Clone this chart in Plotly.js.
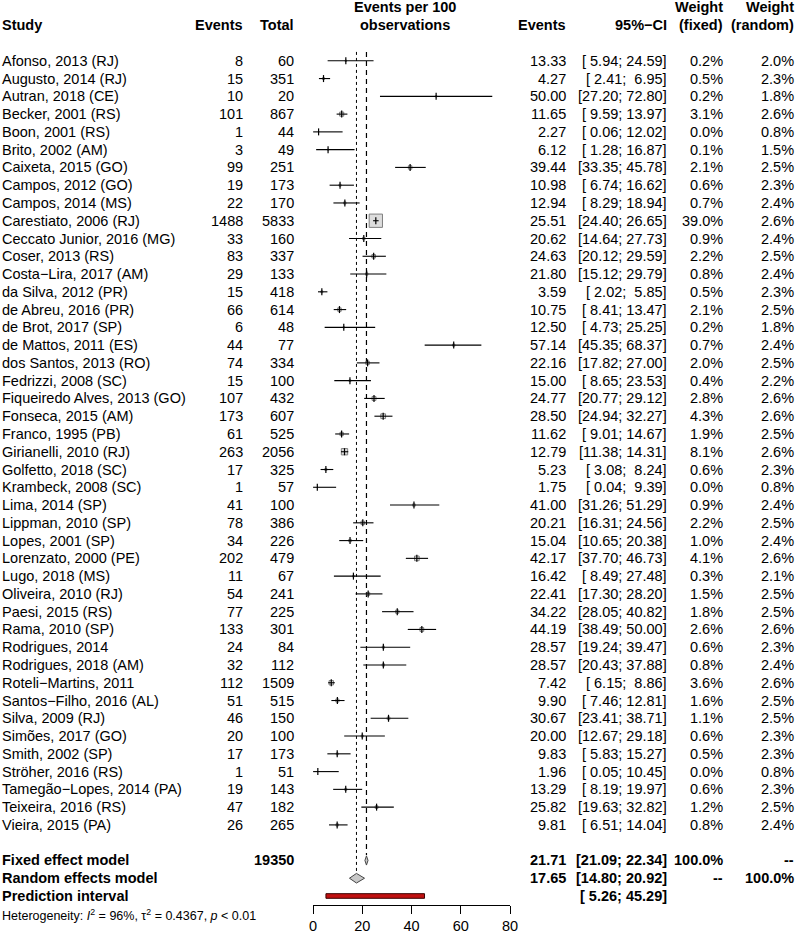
<!DOCTYPE html>
<html>
<head>
<meta charset="utf-8">
<script src="https://cdn.plot.ly/plotly-3.0.1.min.js"></script>
<style>
  html, body { margin: 0; padding: 0; background: #fff; }
  #chart { width: 796px; height: 940px; }
</style>
</head>
<body>
<div id="chart"></div>
<script>
const studies = [
  'Afonso, 2013 (RJ)', 'Augusto, 2014 (RJ)', 'Autran, 2018 (CE)', 'Becker, 2001 (RS)',
  'Boon, 2001 (RS)', 'Brito, 2002 (AM)', 'Caixeta, 2015 (GO)', 'Campos, 2012 (GO)',
  'Campos, 2014 (MS)', 'Carestiato, 2006 (RJ)', 'Ceccato Junior, 2016 (MG)', 'Coser, 2013 (RS)',
  'Costa\u2212Lira, 2017 (AM)', 'da Silva, 2012 (PR)', 'de Abreu, 2016 (PR)', 'de Brot, 2017 (SP)',
  'de Mattos, 2011 (ES)', 'dos Santos, 2013 (RO)', 'Fedrizzi, 2008 (SC)', 'Fiqueiredo Alves, 2013 (GO)',
  'Fonseca, 2015 (AM)', 'Franco, 1995 (PB)', 'Girianelli, 2010 (RJ)', 'Golfetto, 2018 (SC)',
  'Krambeck, 2008 (SC)', 'Lima, 2014 (SP)', 'Lippman, 2010 (SP)', 'Lopes, 2001 (SP)',
  'Lorenzato, 2000 (PE)', 'Lugo, 2018 (MS)', 'Oliveira, 2010 (RJ)', 'Paesi, 2015 (RS)',
  'Rama, 2010 (SP)', 'Rodrigues, 2014', 'Rodrigues, 2018 (AM)', 'Roteli\u2212Martins, 2011',
  'Santos\u2212Filho, 2016 (AL)', 'Silva, 2009 (RJ)', 'Simões, 2017 (GO)', 'Smith, 2002 (SP)',
  'Ströher, 2016 (RS)', 'Tamegão\u2212Lopes, 2014 (PA)', 'Teixeira, 2016 (RS)', 'Vieira, 2015 (PA)'
]
const events = [8, 15, 10, 101, 1, 3, 99, 19, 22, 1488, 33, 83, 29, 15, 66, 6, 44, 74, 15, 107, 173, 61,
  263, 17, 1, 41, 78, 34, 202, 11, 54, 77, 133, 24, 32, 112, 51, 46, 20, 17, 1, 19, 47, 26]
const totals = [60, 351, 20, 867, 44, 49, 251, 173, 170, 5833, 160, 337, 133, 418, 614, 48, 77, 334, 100,
  432, 607, 525, 2056, 325, 57, 100, 386, 226, 479, 67, 241, 225, 301, 84, 112, 1509, 515, 150, 100,
  173, 51, 143, 182, 265]
const rate = [13.33, 4.27, 50.00, 11.65, 2.27, 6.12, 39.44, 10.98, 12.94, 25.51, 20.62, 24.63, 21.80,
  3.59, 10.75, 12.50, 57.14, 22.16, 15.00, 24.77, 28.50, 11.62, 12.79, 5.23, 1.75, 41.00, 20.21, 15.04,
  42.17, 16.42, 22.41, 34.22, 44.19, 28.57, 28.57, 7.42, 9.90, 30.67, 20.00, 9.83, 1.96, 13.29, 25.82, 9.81]
const lower = [5.94, 2.41, 27.20, 9.59, 0.06, 1.28, 33.35, 6.74, 8.29, 24.40, 14.64, 20.12, 15.12, 2.02,
  8.41, 4.73, 45.35, 17.82, 8.65, 20.77, 24.94, 9.01, 11.38, 3.08, 0.04, 31.26, 16.31, 10.65, 37.70,
  8.49, 17.30, 28.05, 38.49, 19.24, 20.43, 6.15, 7.46, 23.41, 12.67, 5.83, 0.05, 8.19, 19.63, 6.51]
const upper = [24.59, 6.95, 72.80, 13.97, 12.02, 16.87, 45.78, 16.62, 18.94, 26.65, 27.73, 29.59, 29.79,
  5.85, 13.47, 25.25, 68.37, 27.00, 23.53, 29.12, 32.27, 14.67, 14.31, 8.24, 9.39, 51.29, 24.56, 20.38,
  46.73, 27.48, 28.20, 40.82, 50.00, 39.47, 37.88, 8.86, 12.81, 38.71, 29.18, 15.27, 10.45, 19.97, 32.82, 14.04]
const weightFixed = [0.2, 0.5, 0.2, 3.1, 0.0, 0.1, 2.1, 0.6, 0.7, 39.0, 0.9, 2.2, 0.8, 0.5, 2.1, 0.2, 0.7,
  2.0, 0.4, 2.8, 4.3, 1.9, 8.1, 0.6, 0.0, 0.9, 2.2, 1.0, 4.1, 0.3, 1.5, 1.8, 2.6, 0.6, 0.8, 3.6, 1.6, 1.1,
  0.6, 0.5, 0.0, 0.6, 1.2, 0.8]
const weightRandom = [2.0, 2.3, 1.8, 2.6, 0.8, 1.5, 2.5, 2.3, 2.4, 2.6, 2.4, 2.5, 2.4, 2.3, 2.5, 1.8, 2.4,
  2.5, 2.2, 2.6, 2.6, 2.5, 2.6, 2.3, 0.8, 2.4, 2.5, 2.4, 2.6, 2.1, 2.5, 2.5, 2.6, 2.3, 2.4, 2.6, 2.5, 2.5,
  2.3, 2.3, 0.8, 2.3, 2.5, 2.4]

const totalN = 19350
const fixedModel = {est: 21.71, lo: 21.09, hi: 22.34}
const randomModel = {est: 17.65, lo: 14.80, hi: 20.92}
const prediction = {lo: 5.26, hi: 45.29}
const heterogeneity = 'Heterogeneity: <i>I</i><sup>2</sup> = 96%, \u03c4<sup>2</sup> = 0.4367, <i>p</i> &lt; 0.01'
const axisTicks = [0, 20, 40, 60, 80]

const W = 796
const H = 940
const FONT = 'Liberation Sans, Arial, Helvetica, sans-serif'
const FS = 14.5
const nbsp = '\u00a0'

const pad = (v) => {
  const s = v.toFixed(2)
  return nbsp.repeat(Math.max(0, 5 - s.length)) + s
}
const ci = (lo, hi) => `[${pad(lo)}; ${pad(hi)}]`

// row index -> y; studies 0..n-1, then summary rows
const n = studies.length
const rowFixed = n + 1
const rowRandom = n + 2
const rowPred = n + 3
const rows = studies.map((s, i) => i)

// row pitch and axis placement in px
const rowTop = 60.8
const pitch = 17.77
const axisY = 905

// column right edges (px)
const col = {study: 2, events: 243, total: 294, rate: 566, ci: 667, wf: 723, wr: 794}

const annotations = []
function txt (text, xpx, y, anchor, opts = {}) {
  annotations.push({
    text,
    x: xpx / W,
    xref: 'paper',
    y,
    yref: opts.yref || 'y',
    xanchor: anchor,
    yanchor: 'middle',
    showarrow: false,
    borderpad: 0,
    borderwidth: 0,
    font: {family: FONT, size: opts.size || FS, color: '#000'}
  })
}
const b = (s) => `<b>${s}</b>`

// headers
txt(b('Study'), col.study, -2, 'left')
txt(b('Events'), col.events, -2, 'right')
txt(b('Total'), col.total, -2, 'right')
txt(b('Events per 100'), 405, -3, 'center')
txt(b('observations'), 405, -2, 'center')
txt(b('Events'), col.rate, -2, 'right')
txt(b('95%\u2212CI'), col.ci, -2, 'right')
txt(b('Weight'), col.wf, -3, 'right')
txt(b('(fixed)'), col.wf, -2, 'right')
txt(b('Weight'), col.wr, -3, 'right')
txt(b('(random)'), col.wr, -2, 'right')

rows.forEach((i) => {
  txt(studies[i], col.study, i, 'left')
  txt(String(events[i]), col.events, i, 'right')
  txt(String(totals[i]), col.total, i, 'right')
  txt(rate[i].toFixed(2), col.rate, i, 'right')
  txt(ci(lower[i], upper[i]), col.ci, i, 'right')
  txt(weightFixed[i].toFixed(1) + '%', col.wf, i, 'right')
  txt(weightRandom[i].toFixed(1) + '%', col.wr, i, 'right')
})

txt(b('Fixed effect model'), col.study, rowFixed, 'left')
txt(b(String(totalN)), col.total, rowFixed, 'right')
txt(b(fixedModel.est.toFixed(2)), col.rate, rowFixed, 'right')
txt(b(ci(fixedModel.lo, fixedModel.hi)), col.ci, rowFixed, 'right')
txt(b('100.0%'), col.wf, rowFixed, 'right')
txt(b('--'), col.wr, rowFixed, 'right')

txt(b('Random effects model'), col.study, rowRandom, 'left')
txt(b(randomModel.est.toFixed(2)), col.rate, rowRandom, 'right')
txt(b(ci(randomModel.lo, randomModel.hi)), col.ci, rowRandom, 'right')
txt(b('--'), col.wf, rowRandom, 'right')
txt(b('100.0%'), col.wr, rowRandom, 'right')

txt(b('Prediction interval'), col.study, rowPred, 'left')
txt(b(ci(prediction.lo, prediction.hi)), col.ci, rowPred, 'right')

// heterogeneity line, one row below the prediction interval
txt(heterogeneity, col.study, 1 - (rowTop + pitch * (rowPred + 1.05)) / H, 'left', {size: 12.5, yref: 'paper'})

// traces
const ciX = []
const ciY = []
rows.forEach((i) => {
  ciX.push(lower[i], upper[i], null)
  ciY.push(i, i, null)
})

const diamond = (m, h) => ({
  x: [m.lo, m.est, m.hi, m.est, m.lo],
  y: [0, -h, 0, h, 0]
})
const fd = diamond(fixedModel, 0.26)
const rd = diamond(randomModel, 0.27)

const traces = [
  {
    x: [fixedModel.est, fixedModel.est],
    y: [-0.5, rowFixed - 0.3],
    mode: 'lines',
    line: {color: '#000', width: 1.2, dash: '5px,4px'},
    hoverinfo: 'skip'
  },
  {
    x: [randomModel.est, randomModel.est],
    y: [-0.5, rowRandom - 0.3],
    mode: 'lines',
    line: {color: '#000', width: 1, dash: 'dot'},
    hoverinfo: 'skip'
  },
  {
    x: rate,
    y: rows,
    mode: 'markers',
    marker: {
      symbol: 'square',
      // box side grows with the square root of the fixed-effect weight
      size: weightFixed.map((w) => 2.05 * Math.sqrt(w) + 0.5),
      color: '#cfcfcf',
      line: {color: '#4a4a4a', width: 1}
    },
    cliponaxis: false
  },
  {
    x: ciX,
    y: ciY,
    mode: 'lines',
    line: {color: '#000', width: 1.1},
    cliponaxis: false
  },
  {
    x: rate,
    y: rows,
    mode: 'markers',
    marker: {symbol: 'line-ns-open', size: 5, color: '#000', line: {color: '#000', width: 1.2}},
    cliponaxis: false
  },
  {
    x: fd.x,
    y: fd.y.map((d) => rowFixed + d),
    mode: 'lines',
    fill: 'toself',
    fillcolor: '#c8c8c8',
    line: {color: '#444', width: 1}
  },
  {
    x: rd.x,
    y: rd.y.map((d) => rowRandom + d),
    mode: 'lines',
    fill: 'toself',
    fillcolor: '#c8c8c8',
    line: {color: '#444', width: 1}
  },
  {
    x: [prediction.lo, prediction.hi, prediction.hi, prediction.lo, prediction.lo],
    y: [rowPred - 0.13, rowPred - 0.13, rowPred + 0.13, rowPred + 0.13, rowPred - 0.13],
    mode: 'lines',
    fill: 'toself',
    fillcolor: '#c01010',
    line: {color: '#3a0000', width: 1}
  }
]

const layout = {
  width: W,
  height: H,
  margin: {l: 0, r: 0, t: 0, b: 0},
  paper_bgcolor: '#fff',
  plot_bgcolor: 'rgba(0,0,0,0)',
  showlegend: false,
  hovermode: false,
  font: {family: FONT, size: FS, color: '#000'},
  xaxis: {
    domain: [313 / W, 510 / W],
    range: [0, 80],
    showgrid: false,
    zeroline: false,
    showline: true,
    linecolor: '#000',
    linewidth: 1,
    ticks: 'outside',
    ticklen: 8,
    tickwidth: 1,
    tickcolor: '#000',
    tickvals: axisTicks,
    ticktext: axisTicks.map(String),
    tickfont: {family: FONT, size: FS, color: '#000'},
    fixedrange: true
  },
  yaxis: {
    domain: [1 - axisY / H, 1],
    range: [(axisY - rowTop) / pitch, -rowTop / pitch],
    visible: false,
    fixedrange: true
  },
  annotations
}

Plotly.newPlot('chart', traces, layout, {displayModeBar: false, staticPlot: true})
</script>
</body>
</html>
